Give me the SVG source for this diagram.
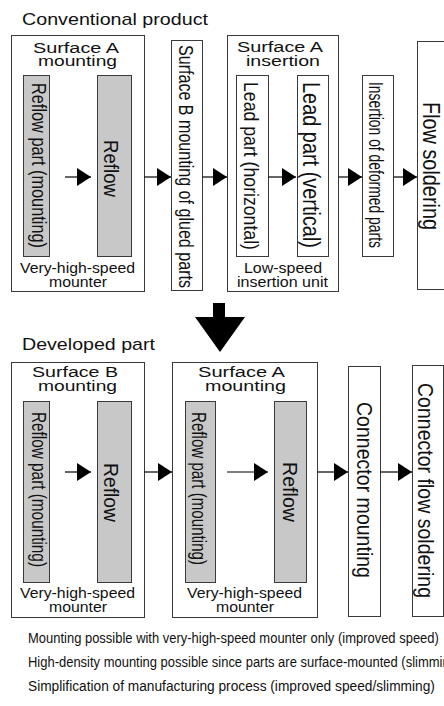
<svg xmlns="http://www.w3.org/2000/svg" width="444" height="706" viewBox="0 0 444 706">
<defs>
<style>
.box{fill:#fff;stroke:#3a3a3a;stroke-width:1}
.gray{fill:#c8c8c8;stroke:#3a3a3a;stroke-width:1}
text{font-family:"Liberation Sans",Arial,sans-serif;fill:#111}
.t{font-size:15.5px;text-anchor:middle}
.s{font-size:14.5px;text-anchor:middle}
.h{font-size:17px}
.v{font-size:20px}
.n{font-size:15px}
.conn line{stroke:#000;stroke-width:1.2;marker-end:url(#ah)}
</style>
<marker id="ah" markerUnits="userSpaceOnUse" markerWidth="14" markerHeight="18" refX="14" refY="9" orient="auto">
<path d="M0,0 L14,9 L0,18 Z" fill="#000"/>
</marker>
</defs>
<rect width="444" height="706" fill="#fff"/>

<text class="h" x="22" y="25" textLength="186" lengthAdjust="spacingAndGlyphs">Conventional product</text>
<text class="h" x="22" y="350" textLength="133" lengthAdjust="spacingAndGlyphs">Developed part</text>

<!-- Top section -->
<g id="top-surfaceA-mounting">
<rect class="box" x="11.5" y="35.5" width="133" height="256"/>
<text class="t" x="76" y="52.5" textLength="86" lengthAdjust="spacingAndGlyphs">Surface A</text>
<text class="t" x="77.5" y="66" textLength="79" lengthAdjust="spacingAndGlyphs">mounting</text>
<text class="s" x="77.5" y="273" textLength="115" lengthAdjust="spacingAndGlyphs">Very-high-speed</text>
<text class="s" x="78" y="287" textLength="58" lengthAdjust="spacingAndGlyphs">mounter</text>
</g>
<g id="top-reflow-part">
<rect class="gray" x="23.5" y="75.5" width="26" height="181"/>
<text class="v" transform="translate(32,83) rotate(90)" textLength="165" lengthAdjust="spacingAndGlyphs">Reflow part (mounting)</text>
</g>
<g id="top-reflow">
<rect class="gray" x="97.5" y="75.5" width="34" height="181"/>
<text class="v" transform="translate(104,140) rotate(90)" textLength="57" lengthAdjust="spacingAndGlyphs">Reflow</text>
</g>
<g id="top-surfaceB-glued">
<rect class="box" x="171.5" y="40.5" width="31" height="250"/>
<text class="v" transform="translate(179,45) rotate(90)" textLength="243" lengthAdjust="spacingAndGlyphs">Surface B mounting of glued parts</text>
</g>
<g id="top-surfaceA-insertion">
<rect class="box" x="227.5" y="35.5" width="111" height="256"/>
<text class="t" x="280" y="52" textLength="86" lengthAdjust="spacingAndGlyphs">Surface A</text>
<text class="t" x="283" y="66" textLength="74" lengthAdjust="spacingAndGlyphs">insertion</text>
<text class="s" x="283" y="273" textLength="78" lengthAdjust="spacingAndGlyphs">Low-speed</text>
<text class="s" x="282.5" y="287" textLength="91" lengthAdjust="spacingAndGlyphs">insertion unit</text>
</g>
<g id="top-lead-horizontal">
<rect class="box" x="236.5" y="75.5" width="32" height="181"/>
<text class="v" style="font-size:21px" transform="translate(244,82) rotate(90)" textLength="168" lengthAdjust="spacingAndGlyphs">Lead part (horizontal)</text>
</g>
<g id="top-lead-vertical">
<rect class="box" x="297.5" y="75.5" width="31" height="181"/>
<text class="v" style="font-size:23px" transform="translate(303,82) rotate(90)" textLength="166" lengthAdjust="spacingAndGlyphs">Lead part (vertical)</text>
</g>
<g id="top-deformed">
<rect class="box" x="362.5" y="75.5" width="31" height="181"/>
<text class="v" transform="translate(369,82) rotate(90)" textLength="166" lengthAdjust="spacingAndGlyphs">Insertion of deformed parts</text>
</g>
<g id="top-flow-soldering">
<rect class="box" x="417.5" y="41.5" width="40" height="248"/>
<text class="v" style="font-size:24px" transform="translate(423,102) rotate(90)" textLength="128" lengthAdjust="spacingAndGlyphs">Flow soldering</text>
</g>

<g id="big-arrow">
<polygon points="213,303 225,303 225,317 245,317 220,352 195,317 213,317" fill="#000"/>
</g>

<!-- Bottom section -->
<g id="bot-surfaceB-mounting">
<rect class="box" x="11.5" y="362.5" width="133" height="255"/>
<text class="t" x="75" y="377" textLength="86" lengthAdjust="spacingAndGlyphs">Surface B</text>
<text class="t" x="77.5" y="391" textLength="79" lengthAdjust="spacingAndGlyphs">mounting</text>
<text class="s" x="77.5" y="598" textLength="115" lengthAdjust="spacingAndGlyphs">Very-high-speed</text>
<text class="s" x="78" y="612" textLength="58" lengthAdjust="spacingAndGlyphs">mounter</text>
</g>
<g id="bot-reflow-part-1">
<rect class="gray" x="23.5" y="401.5" width="26" height="181"/>
<text class="v" transform="translate(32,412) rotate(90)" textLength="155" lengthAdjust="spacingAndGlyphs">Reflow part (mounting)</text>
</g>
<g id="bot-reflow-1">
<rect class="gray" x="97.5" y="401.5" width="34" height="181"/>
<text class="v" transform="translate(104,463) rotate(90)" textLength="59" lengthAdjust="spacingAndGlyphs">Reflow</text>
</g>
<g id="bot-surfaceA-mounting">
<rect class="box" x="172.5" y="362.5" width="145" height="255"/>
<text class="t" x="241.5" y="377" textLength="87" lengthAdjust="spacingAndGlyphs">Surface A</text>
<text class="t" x="245.5" y="391" textLength="81" lengthAdjust="spacingAndGlyphs">mounting</text>
<text class="s" x="244.5" y="598" textLength="115" lengthAdjust="spacingAndGlyphs">Very-high-speed</text>
<text class="s" x="245" y="612" textLength="58" lengthAdjust="spacingAndGlyphs">mounter</text>
</g>
<g id="bot-reflow-part-2">
<rect class="gray" x="185.5" y="401.5" width="30" height="181"/>
<text class="v" transform="translate(192,412) rotate(90)" textLength="153" lengthAdjust="spacingAndGlyphs">Reflow part (mounting)</text>
</g>
<g id="bot-reflow-2">
<rect class="gray" x="274.5" y="401.5" width="32" height="181"/>
<text class="v" transform="translate(283,462) rotate(90)" textLength="60" lengthAdjust="spacingAndGlyphs">Reflow</text>
</g>
<g id="bot-connector-mounting">
<rect class="box" x="348.5" y="366.5" width="32" height="250"/>
<text class="v" style="font-size:22px" transform="translate(357,402) rotate(90)" textLength="176" lengthAdjust="spacingAndGlyphs">Connector mounting</text>
</g>
<g id="bot-connector-flow">
<rect class="box" x="412.5" y="365.5" width="31" height="251"/>
<text class="v" style="font-size:22px" transform="translate(418,383) rotate(90)" textLength="215" lengthAdjust="spacingAndGlyphs">Connector flow soldering</text>
</g>

<g id="connectors" class="conn">
<line x1="65" y1="177" x2="91" y2="177"/>
<line x1="144.5" y1="177" x2="171" y2="177"/>
<line x1="202.5" y1="177" x2="227" y2="177"/>
<line x1="268.5" y1="177" x2="296" y2="177"/>
<line x1="338.5" y1="177" x2="362" y2="177"/>
<line x1="393.5" y1="177" x2="417" y2="177"/>
<line x1="65" y1="472" x2="91" y2="472"/>
<line x1="144.5" y1="472" x2="172" y2="472"/>
<line x1="227" y1="472" x2="268" y2="472"/>
<line x1="317.5" y1="472" x2="348" y2="472"/>
<line x1="380.5" y1="472" x2="412" y2="472"/>
</g>

<g id="notes">
<text class="n" transform="translate(28,643) scale(0.865,1)">Mounting possible with very-high-speed mounter only (improved speed)</text>
<text class="n" transform="translate(28,667) scale(0.865,1)">High-density mounting possible since parts are surface-mounted (slimming)</text>
<text class="n" transform="translate(28,691) scale(0.915,1)">Simplification of manufacturing process (improved speed/slimming)</text>
</g>
</svg>
